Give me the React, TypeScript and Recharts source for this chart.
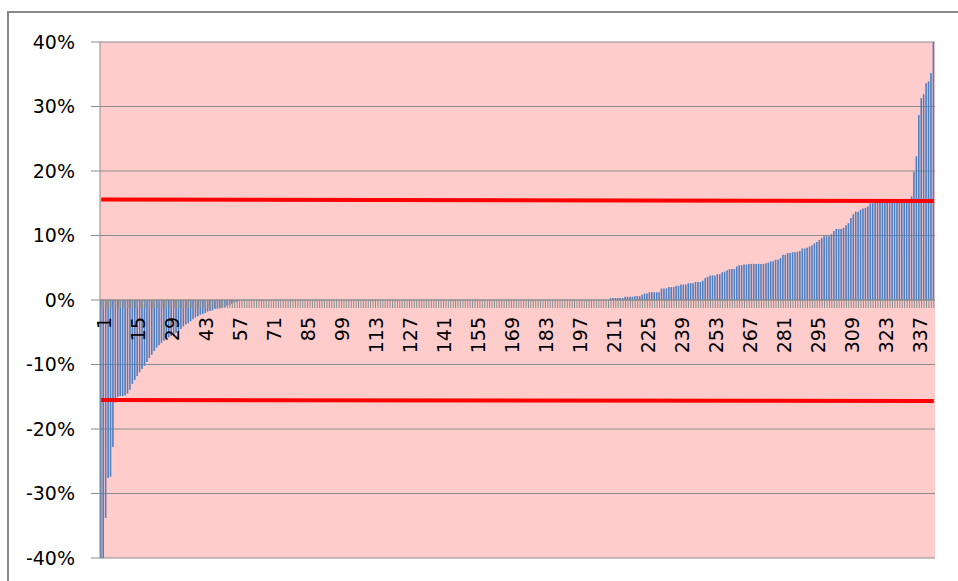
import React from 'react';
import { BarChart, Bar, XAxis, YAxis, CartesianGrid, ReferenceLine } from 'recharts';

// sorted % change per item (344 items)
const negativeTail = [
  -40, -40, -33.8, -27.6, -27.4, -22.8, -15.9, -15.0, -14.9, -14.9, -14.8, -14.5, -13.9, -13.0, -12.4, -11.8, -11.2, -10.7, -10.2, -9.6,
  -9.0, -8.5, -7.9, -7.4, -7.0, -6.7, -6.3, -6.0, -5.8, -5.6, -5.4, -5.1, -4.8, -4.5, -4.1, -3.8, -3.6, -3.3, -3.0, -2.7,
  -2.5, -2.3, -2.2, -2.0, -1.8, -1.7, -1.6, -1.4, -1.35, -1.3, -1.2, -1.1, -0.9, -0.8, -0.6, -0.4, -0.3, -0.1,
];

const flatMiddle = [
  0, 0, 0, 0, 0, 0, 0, 0, 0, 0, 0, 0, 0, 0, 0, 0, 0, 0, 0,
  0, 0, 0, 0, 0, 0, 0, 0, 0, 0, 0, 0, 0, 0, 0, 0, 0, 0, 0,
  0, 0, 0, 0, 0, 0, 0, 0, 0, 0, 0, 0, 0, 0, 0, 0, 0, 0, 0,
  0, 0, 0, 0, 0, 0, 0, 0, 0, 0, 0, 0, 0, 0, 0, 0, 0, 0, 0,
  0, 0, 0, 0, 0, 0, 0, 0, 0, 0, 0, 0, 0, 0, 0, 0, 0, 0, 0,
  0, 0, 0, 0, 0, 0, 0, 0, 0, 0, 0, 0, 0, 0, 0, 0, 0, 0, 0,
  0, 0, 0, 0, 0, 0, 0, 0, 0, 0, 0, 0, 0, 0, 0, 0, 0, 0, 0,
  0, 0, 0, 0, 0, 0, 0, 0, 0, 0, 0, 0, 0, 0, 0, 0, 0, 0, 0,
];

const positiveTail = [
  0.3, 0.3, 0.3, 0.3, 0.3, 0.3, 0.5, 0.5, 0.5, 0.5, 0.6, 0.6, 0.6, 0.8, 1.0, 1.0, 1.2, 1.2, 1.2, 1.2,
  1.2, 1.8, 1.8, 1.8, 2.0, 2.0, 2.0, 2.2, 2.2, 2.4, 2.4, 2.4, 2.6, 2.6, 2.6, 2.8, 2.8, 2.8, 3.0, 3.4,
  3.6, 3.8, 3.8, 3.8, 4.0, 4.0, 4.3, 4.4, 4.6, 4.8, 4.8, 4.8, 5.2, 5.4, 5.4, 5.5, 5.5, 5.6, 5.6, 5.6,
  5.6, 5.6, 5.6, 5.6, 5.7, 5.8, 6.0, 6.0, 6.25, 6.25, 6.5, 7.0, 7.0, 7.3, 7.3, 7.4, 7.4, 7.5, 7.6, 8.0,
  8.0, 8.1, 8.3, 8.5, 8.8, 9.0, 9.3, 9.6, 9.9, 9.9, 9.9, 10.2, 10.7, 11.0, 11.0, 11.0, 11.2, 11.6, 11.9, 12.7,
  13.3, 13.7, 13.7, 14.0, 14.2, 14.3, 14.5, 15.0, 15.0, 15.1, 15.1, 15.1, 15.1, 15.2, 15.2, 15.2, 15.2, 15.2, 15.2, 15.2,
  15.2, 15.3, 15.3, 15.3, 16.1, 19.9, 22.3, 28.7, 31.3, 31.9, 33.6, 33.9, 35.2, 40,
];

const changePct = [...negativeTail, ...flatMiddle, ...positiveTail];

const yTicks = [-40, -30, -20, -10, 0, 10, 20, 30, 40];

// red band lines, endpoints
const upperBand = [15.6, 15.35];
const lowerBand = [-15.5, -15.65];

const LABEL_STEP = 14;

const data = changePct.map((v, i) => ({ cat: i + 1, v }));
const firstCat = data[0].cat;
const lastCat = data[data.length - 1].cat;

const CHART_W = 942;
const CHART_H = 565;
const MARGIN = { top: 34, right: 15, bottom: 14, left: 0 };
const PLOT_H = CHART_H - MARGIN.top - MARGIN.bottom - 1;
const ZERO_Y = MARGIN.top + PLOT_H / 2;
const FONT = '"DejaVu Sans", sans-serif';

// tick mark for every category, number label every 14th, all hanging off the 0% line
function CategoryTick(props: any) {
  const { x, payload, index } = props;
  const lx = x + 3;
  const ly = ZERO_Y + 17;
  return (
    <g>
      <line x1={x} x2={x} y1={ZERO_Y} y2={ZERO_Y + 8} stroke="#8c8c8c" strokeWidth={1} />
      {index % LABEL_STEP === 0 && (
        <text
          x={lx}
          y={ly}
          transform={`rotate(-90, ${lx}, ${ly})`}
          textAnchor="end"
          dominantBaseline="central"
          fontSize={19}
          fontFamily={FONT}
          fill="#000"
        >
          {payload.value}
        </text>
      )}
    </g>
  );
}

export default function App() {
  return (
    <div style={{ position: 'relative', width: 958, height: 581, overflow: 'hidden', background: '#fff' }}>
      <style>{'body{margin:0;overflow:hidden}'}</style>
      <div
        style={{
          position: 'absolute',
          left: 7,
          top: 11,
          width: 1000,
          height: 1000,
          border: '2px solid #8a8a8a',
        }}
      />
      <div style={{ position: 'absolute', left: 8, top: 8 }}>
        <BarChart width={CHART_W} height={CHART_H} data={data} margin={MARGIN}>
          <CartesianGrid vertical={false} stroke="#8c8c8c" fill="#FFCCCC" />
          <XAxis
            dataKey="cat"
            interval={0}
            axisLine={false}
            tickLine={false}
            height={1}
            tick={<CategoryTick />}
          />
          <YAxis
            type="number"
            domain={[-40, 40]}
            ticks={yTicks}
            allowDataOverflow
            width={92}
            tickSize={9}
            tickMargin={16}
            axisLine={{ stroke: '#8c8c8c' }}
            tickLine={{ stroke: '#8c8c8c' }}
            tick={{ fill: '#000', fontSize: 19, fontFamily: FONT }}
            tickFormatter={(v: number) => `${v}%`}
          />
          <Bar dataKey="v" fill="#4f7fc0" barSize={1.6} isAnimationActive={false} />
          <ReferenceLine y={0} stroke="#8c8c8c" />
          <ReferenceLine
            segment={[
              { x: firstCat, y: upperBand[0] },
              { x: lastCat, y: upperBand[1] },
            ]}
            stroke="#ff0000"
            strokeWidth={4}
          />
          <ReferenceLine
            segment={[
              { x: firstCat, y: lowerBand[0] },
              { x: lastCat, y: lowerBand[1] },
            ]}
            stroke="#ff0000"
            strokeWidth={4}
          />
        </BarChart>
      </div>
    </div>
  );
}
